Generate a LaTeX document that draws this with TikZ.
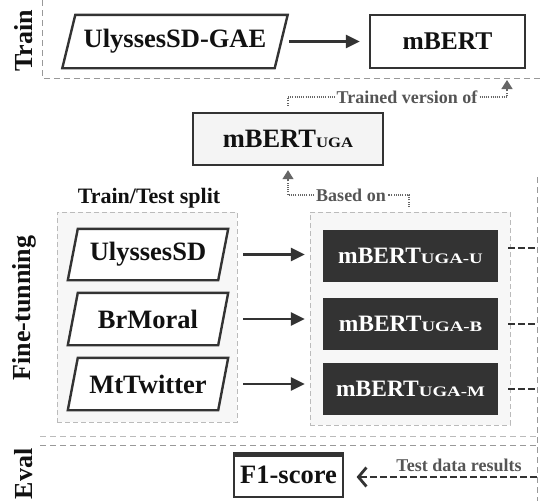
\documentclass[tikz,border=0pt]{standalone}
\usepackage{graphicx}
\usepackage{fontspec}
\setmainfont{Liberation Serif}
\usetikzlibrary{arrows.meta}
\pgfdeclarelayer{back}
\pgfdeclarelayer{mid}
\pgfsetlayers{back,mid,main}
\definecolor{ink}{HTML}{333333}
\definecolor{txt}{HTML}{111111}
\definecolor{graytxt}{HTML}{555555}
\definecolor{dotcol}{HTML}{666666}
\definecolor{frame}{HTML}{999999}
\definecolor{framelight}{HTML}{BBBBBB}
\definecolor{groupfill}{HTML}{F7F7F7}
\definecolor{ugafill}{HTML}{F4F4F4}
\newcommand{\ugasmall}[2]{{\fontsize{14.5}{16}\selectfont\scalebox{#1}[1]{#2}}}
\begin{document}
\begin{tikzpicture}[x=1pt,y=-1pt,
  sect/.style={font=\bfseries\fontsize{26}{28}\selectfont, rotate=90, text=txt, inner sep=0pt},
  paratext/.style={rectangle, inner sep=0pt, minimum height=52pt, text=txt, font=\bfseries\fontsize{26.5}{28}\selectfont},
  parashape/.style={draw=ink, fill=white, line width=2.4pt, line join=miter},
  whitebox/.style={draw=ink, line width=2.4pt, inner sep=0pt, minimum height=53pt, text=txt, font=\bfseries\fontsize{25.5}{28}\selectfont},
  darkbox/.style={fill=ink, text=white, inner sep=0pt, minimum width=175pt, minimum height=52pt, font=\bfseries\fontsize{23.5}{26}\selectfont},
  groupbox/.style={draw=framelight, fill=groupfill, dash pattern=on 5pt off 3pt, line width=0.9pt, inner sep=0pt},
  frameline/.style={draw=frame, dash pattern=on 6pt off 4pt, line width=0.9pt},
  solidarrow/.style={draw=ink, line width=2.8pt, -{Triangle[length=14pt,width=13pt]}},
  dotline/.style={draw=dotcol, line width=1.3pt, dash pattern=on 1pt off 1.2pt},
  dottip/.style={-{Triangle[length=9pt,width=11pt]}},
  thickdash/.style={draw=ink, line width=2.8pt, dash pattern=on 7pt off 3pt},
  graylabel/.style={text=graytxt, font=\bfseries\fontsize{18}{20}\selectfont, inner sep=2pt},
]
\useasboundingbox (0,0) rectangle (541,501);
\begin{pgfonlayer}{back}
\fill[white] (0,0) rectangle (541,501);
\node[groupbox, minimum width=180pt, minimum height=210pt] (lgroup) at (147,317) {};
\node[groupbox, minimum width=200pt, minimum height=213pt] (rgroup) at (410,318.5) {};
\end{pgfonlayer}

% section frames
\draw[frameline] (42,0) -- (42,78) -- (541,78);
\draw[frameline, draw=framelight] (40,436) -- (537,436);
\draw[frameline] (40,445) -- (537,445);
\draw[frameline] (537,177) -- (537,501);

% section labels
\node[sect] (ltrain) at (24,41) {Train};
\node[sect] (lfine) at (24,308) {Fine-tunning};
\node[sect] (leval) at (24,474) {Eval};

% train row
\node[paratext, minimum width=212pt, minimum height=53pt] (gae) at (175,41.5) {UlyssesSD-GAE};
\node[whitebox, minimum width=155pt] (mbert) at (447.5,41.5) {mBERT};
\draw[solidarrow, shorten <=8pt, shorten >=9pt] (gae.east) -- (mbert.west);

% mBERT UGA
\node[whitebox, fill=ugafill, minimum width=190pt, minimum height=52pt, font=\bfseries\fontsize{26.5}{28}\selectfont] (uga) at (288,139) {mBERT\ugasmall{1.15}{UGA}};

\node[graylabel] (tv) at (407,97) {Trained version of};
\coordinate (tvtip) at (507,80);
\draw[dotline] ([yshift=6pt]uga.north) |- (tv.west);
\draw[dotline, dottip] (tv.east) -| (tvtip);

\node[graylabel] (bo) at (351,195) {Based on};
\coordinate (bostart) at (409,207);
\draw[dotline] (bostart) |- (bo.east);
\draw[dotline, dottip, shorten >=4pt] (bo.west) -| (uga.south);

% fine-tuning
\node[font=\bfseries\fontsize{22}{24}\selectfont, text=txt] (tts) at (149,198) {Train/Test split};
\node[paratext, minimum width=150pt, minimum height=51pt] (p1) at (148,254.5) {UlyssesSD};
\node[paratext, minimum width=150pt] (p2) at (148,319) {BrMoral};
\node[paratext, minimum width=150pt] (p3) at (148,384) {MtTwitter};

\node[darkbox] (d1) at (410.5,256) {mBERT\ugasmall{1.3}{UGA-U}};
\node[darkbox] (d2) at (410.5,324) {mBERT\ugasmall{1.3}{UGA-B}};
\node[darkbox] (d3) at (410.5,389) {mBERT\ugasmall{1.3}{UGA-M}};

\begin{pgfonlayer}{mid}
\foreach \n/\s in {gae/6.5,p1/5,p2/5,p3/5}
  \draw[parashape] ([xshift=-\s pt]\n.south west) -- ([xshift=\s pt]\n.north west) -- ([xshift=\s pt]\n.north east) -- ([xshift=-\s pt]\n.south east) -- cycle;
\end{pgfonlayer}

\foreach \p/\d in {p1/d1,p2/d2,p3/d3}
  \draw[solidarrow, shorten <=20pt, shorten >=18pt] (\p.east) -- (\p.east -| \d.west);

\coordinate (rx) at (537,0);
\draw[thickdash, shorten <=10pt] ([yshift=8pt]d1.east) -- ([yshift=8pt]d1.east -| rx);
\draw[thickdash, shorten <=10pt] (d2.east) -- (d2.east -| rx);
\draw[thickdash, shorten <=10pt] (d3.east) -- (d3.east -| rx);

% eval
\node[draw=ink, line width=1.2pt, fill=white, minimum width=109pt, minimum height=44pt, inner sep=0pt, font=\bfseries\fontsize{26.5}{28}\selectfont, text=txt] (f1) at (288.5,475) {F1-score};
\fill[ink] (f1.north west) rectangle ([yshift=-5pt]f1.north east);

\coordinate (tdr) at (537,477);
\draw[thickdash, -{Straight Barb[length=8pt,width=19pt]}, shorten >=13pt] (tdr) -- (tdr -| f1.east);
\node[graylabel] (tdl) at (459,465) {Test data results};
\end{tikzpicture}
\end{document}
